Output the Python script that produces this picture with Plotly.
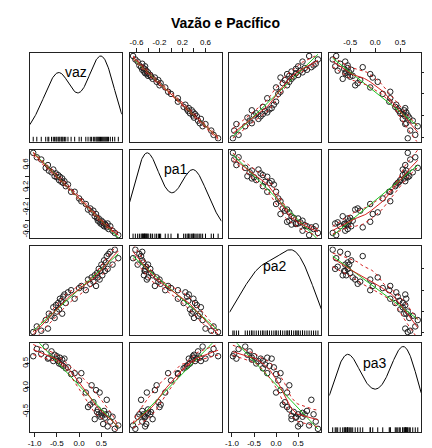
import numpy as np
import plotly.graph_objects as go

names = ["vaz", "pa1", "pa2", "pa3"]

vaz = [-1.03, -0.95, -0.85, -0.75, -0.70, -0.68, -0.62, -0.58, -0.55, -0.52,
       -0.50, -0.47, -0.45, -0.43, -0.40, -0.38, -0.36, -0.33, -0.30, -0.25,
       -0.18, -0.10, 0.00, 0.05, 0.15, 0.20, 0.25, 0.28, 0.32, 0.35,
       0.38, 0.40, 0.42, 0.44, 0.46, 0.48, 0.50, 0.52, 0.54, 0.56,
       0.58, 0.60, 0.62, 0.64, 0.66, 0.70, 0.75, 0.80, 0.88]
pa1 = [0.82, 0.74, 0.70, 0.55, 0.60, 0.50, 0.47, 0.52, 0.40, 0.45,
       0.38, 0.42, 0.33, 0.39, 0.30, 0.36, 0.28, 0.31, 0.22, 0.25,
       0.12, 0.12, 0.00, -0.05, -0.10, -0.20, -0.18, -0.25, -0.22, -0.32,
       -0.28, -0.35, -0.40, -0.36, -0.42, -0.45, -0.40, -0.47, -0.43, -0.50,
       -0.46, -0.48, -0.52, -0.45, -0.55, -0.50, -0.58, -0.62, -0.66]
pa2 = [-0.98, -0.85, -0.95, -0.70, -0.90, -0.55, -0.60, -0.40, -0.65, -0.35,
       -0.50, -0.30, -0.45, -0.20, -0.25, -0.55, -0.15, -0.10, -0.30, -0.05,
       0.00, -0.20, 0.05, 0.10, 0.00, 0.25, 0.15, 0.30, 0.20, 0.35,
       0.10, 0.40, 0.30, 0.50, 0.25, 0.45, 0.60, 0.35, 0.55, 0.70,
       0.45, 0.65, 0.80, 0.50, 0.85, 0.90, 0.60, 0.95, 0.75]
pa3 = [0.65, 0.80, 0.70, 0.85, 0.60, 0.62, 0.75, 0.55, 0.68, 0.60,
       0.65, 0.55, 0.50, 0.62, 0.48, 0.58, 0.45, 0.60, 0.40, 0.42,
       0.28, 0.30, 0.15, 0.30, -0.10, -0.40, -0.35, 0.05, -0.30, -0.65,
       -0.05, -0.50, -0.45, -0.55, -0.10, -0.60, -0.52, -0.58, -0.75, -0.48,
       -0.62, -0.55, -0.25, -0.80, -0.55, -0.70, -0.60, -0.85, -0.78]

tick_labels = {
    "vaz": [-1.0, -0.5, 0.0, 0.5],
    "pa1": [-0.6, -0.2, 0.2, 0.6],
    "pa2": [-1.0, -0.5, 0.0, 0.5],
    "pa3": [-0.5, 0.0, 0.5],
}
minor_ticks = {
    "vaz": [],
    "pa1": [-0.4, 0.0, 0.4],
    "pa2": [],
    "pa3": [],
}
title_text = "Vazão e Pacífico"

data = {"vaz": np.array(vaz), "pa1": np.array(pa1), "pa2": np.array(pa2), "pa3": np.array(pa3)}

W, H = 432, 448
left, right, top, bottom = 18, 413, 45, 427
gap = 8
pw = (right - left - 3 * gap) / 4
ph = (bottom - top - 3 * gap) / 4

GREEN = "#22c322"
RED = "#d42020"
FONT = "Liberation Sans, Arial, sans-serif"


def vrange(v):
    lo, hi = v.min(), v.max()
    d = hi - lo
    return [lo - 0.04 * d, hi + 0.04 * d]


def local_fit(x, y, xs, span=0.5):
    n = len(x)
    q = max(int(np.floor(span * n)), 3)
    out = []
    for x0 in xs:
        d = np.abs(x - x0)
        h = np.sort(d)[q - 1]
        if h <= 0:
            h = 1e-9
        w = np.clip(1 - (d / h) ** 3, 0, None) ** 3
        sw = np.sqrt(w)
        A = np.vstack([np.ones(n), x - x0]).T
        coef, *_ = np.linalg.lstsq(A * sw[:, None], y * sw, rcond=None)
        out.append(coef[0])
    return np.array(out)


def kde(v, grid):
    n = len(v)
    sd = v.std(ddof=1)
    iqr = np.subtract(*np.percentile(v, [75, 25]))
    bw = 0.9 * min(sd, iqr / 1.34) * n ** (-0.2)
    z = (grid[:, None] - v[None, :]) / bw
    return np.exp(-0.5 * z ** 2).sum(axis=1) / (n * bw * np.sqrt(2 * np.pi))


def fmt(v):
    return f"{v:.1f}"


fig = go.Figure()
layout = {}
annotations = []

for r in range(4):
    for c in range(4):
        idx = r * 4 + c + 1
        xs_name = "x" if idx == 1 else f"x{idx}"
        ys_name = "y" if idx == 1 else f"y{idx}"
        xkey = "xaxis" if idx == 1 else f"xaxis{idx}"
        ykey = "yaxis" if idx == 1 else f"yaxis{idx}"
        xn, yn = names[c], names[r]
        xv, yv = data[xn], data[yn]
        xr = vrange(xv)

        x0 = left + c * (pw + gap)
        x1 = x0 + pw
        y0 = top + r * (ph + gap)
        y1 = y0 + ph

        if r == c:
            grid = np.linspace(xr[0], xr[1], 200)
            dens = kde(xv, grid)
            M = dens.max()
            yr = [-0.04 * M, 1.04 * M]
            fig.add_trace(go.Scatter(x=grid, y=dens, mode="lines",
                                     line=dict(color="black", width=1),
                                     xaxis=xs_name, yaxis=ys_name, hoverinfo="skip"))
            unit = (yr[1] - yr[0]) / ph
            fig.add_trace(go.Scatter(x=xv, y=np.full(len(xv), yr[0] + 2.0 * unit),
                                     mode="markers",
                                     marker=dict(symbol="line-ns", size=4,
                                                 line=dict(color="black", width=1)),
                                     xaxis=xs_name, yaxis=ys_name, hoverinfo="skip"))
            annotations.append(dict(x=(xr[0] + xr[1]) / 2, y=0.80 * M, xref=xs_name, yref=ys_name,
                                    text=xn, showarrow=False,
                                    font=dict(size=14, color="black", family=FONT)))
        else:
            yr = vrange(yv)
            fig.add_trace(go.Scatter(x=xv, y=yv, mode="markers",
                                     marker=dict(symbol="circle-open", size=5.5,
                                                 color="#222", line=dict(color="#222", width=1)),
                                     xaxis=xs_name, yaxis=ys_name, hoverinfo="skip"))
            b, a = np.polyfit(xv, yv, 1)
            lx = np.array([xv.min(), xv.max()])
            fig.add_trace(go.Scatter(x=lx, y=a + b * lx, mode="lines",
                                     line=dict(color=GREEN, width=1),
                                     xaxis=xs_name, yaxis=ys_name, hoverinfo="skip"))
            gx = np.linspace(xv.min(), xv.max(), 60)
            sm = local_fit(xv, yv, gx)
            fit_pts = local_fit(xv, yv, xv)
            res = yv - fit_pts
            pos = res > 0
            neg = res < 0
            up = sm + np.sqrt(np.clip(local_fit(xv[pos], res[pos] ** 2, gx, span=0.5), 0, None))
            lo = sm - np.sqrt(np.clip(local_fit(xv[neg], res[neg] ** 2, gx, span=0.5), 0, None))
            fig.add_trace(go.Scatter(x=gx, y=sm, mode="lines",
                                     line=dict(color=RED, width=1),
                                     xaxis=xs_name, yaxis=ys_name, hoverinfo="skip"))
            for band in (up, lo):
                fig.add_trace(go.Scatter(x=gx, y=band, mode="lines",
                                         line=dict(color=RED, width=1, dash="3px,3px"),
                                         xaxis=xs_name, yaxis=ys_name, hoverinfo="skip"))

        tick_common = dict(ticks="outside", ticklen=4, tickcolor="#222", tickwidth=1,
                           showticklabels=True,
                           tickfont=dict(size=8, family=FONT, color="black"))

        xa = dict(domain=[x0 / W, x1 / W], anchor=ys_name, range=xr,
                  showline=True, mirror=True, linecolor="#222", linewidth=1,
                  showgrid=False, zeroline=False, fixedrange=True)
        if (r == 3 and c in (0, 2)) or (r == 0 and c in (1, 3)):
            xa.update(side="bottom" if r == 3 else "top", tickmode="array",
                      tickvals=tick_labels[xn], ticktext=[fmt(v) for v in tick_labels[xn]],
                      tickangle=0, ticklabelstandoff=-1,
                      minor=dict(tickmode="array", tickvals=minor_ticks[xn], ticks="outside",
                                 ticklen=4, tickcolor="#222", tickwidth=1),
                      **tick_common)
        else:
            xa.update(ticks="", showticklabels=False)

        ya = dict(domain=[1 - y1 / H, 1 - y0 / H], anchor=xs_name, range=yr,
                  showline=True, mirror=True, linecolor="#222", linewidth=1,
                  showgrid=False, zeroline=False, fixedrange=True)
        if r != c and ((c == 3 and r in (0, 2)) or (c == 0 and r in (1, 3))):
            ya.update(side="right" if c == 3 else "left", tickmode="array",
                      tickvals=tick_labels[yn], ticktext=[fmt(v) for v in tick_labels[yn]],
                      tickangle=-90, ticklabelstandoff=-6,
                      minor=dict(tickmode="array", tickvals=minor_ticks[yn], ticks="outside",
                                 ticklen=4, tickcolor="#222", tickwidth=1),
                      **tick_common)
        else:
            ya.update(ticks="", showticklabels=False)
        layout[xkey] = xa
        layout[ykey] = ya

annotations.append(dict(x=(left + right) / 2 / W, y=1 - 15 / H, xref="paper", yref="paper",
                        xanchor="center", yanchor="middle",
                        text="<b>" + title_text + "</b>", showarrow=False,
                        font=dict(size=14, color="black", family=FONT)))

fig.update_layout(**layout)
fig.update_layout(width=W, height=H, margin=dict(l=0, r=0, t=0, b=0),
                  plot_bgcolor="white", paper_bgcolor="white", showlegend=False,
                  annotations=annotations)
fig.write_html("out.html")
